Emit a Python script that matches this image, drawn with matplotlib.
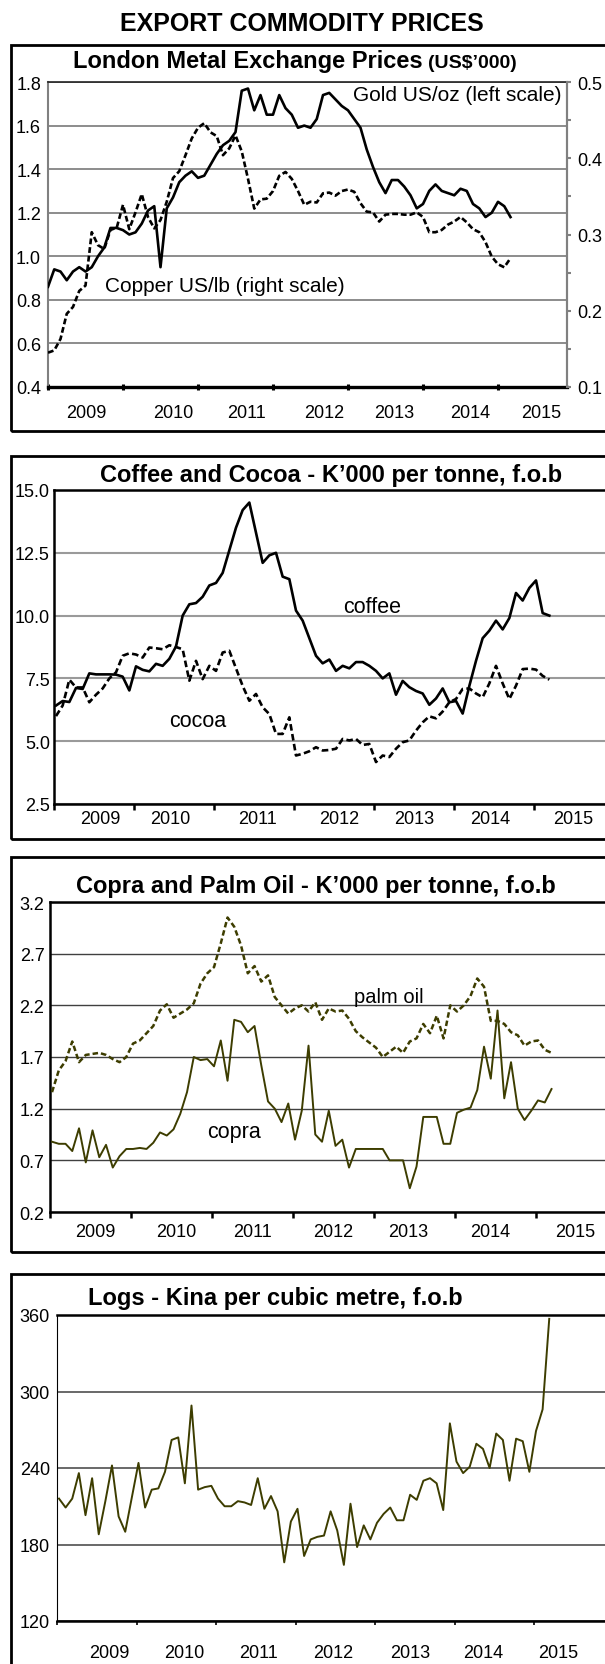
import numpy as np
import matplotlib
matplotlib.use("Agg")
import matplotlib.pyplot as plt
from matplotlib.patches import Rectangle
from matplotlib.transforms import blended_transform_factory

plt.rcParams['font.family'] = ['Liberation Sans', 'DejaVu Sans']

# monthly data, Jan 2009 - Mar 2015
years = [2009, 2010, 2011, 2012, 2013, 2014, 2015]

gold = [0.86, 0.94, 0.93, 0.89, 0.93, 0.95, 0.93, 0.95, 1.00, 1.04, 1.13, 1.13,
        1.12, 1.10, 1.11, 1.15, 1.21, 1.23, 0.95, 1.22, 1.27, 1.34, 1.37, 1.39,
        1.36, 1.37, 1.42, 1.47, 1.51, 1.53, 1.57, 1.76, 1.77, 1.67, 1.74, 1.65,
        1.65, 1.74, 1.68, 1.65, 1.59, 1.60, 1.59, 1.63, 1.74, 1.75, 1.72, 1.69,
        1.67, 1.63, 1.59, 1.49, 1.41, 1.34, 1.29, 1.35, 1.35, 1.32, 1.28, 1.22,
        1.24, 1.30, 1.33, 1.30, 1.29, 1.28, 1.31, 1.30, 1.24, 1.22, 1.18, 1.20,
        1.25, 1.23, 1.18]

copper = [0.145, 0.148, 0.163, 0.196, 0.205, 0.226, 0.233, 0.303, 0.286, 0.281, 0.306, 0.309,
          0.339, 0.307, 0.329, 0.353, 0.323, 0.308, 0.319, 0.343, 0.374, 0.383, 0.404, 0.426,
          0.440, 0.446, 0.434, 0.429, 0.404, 0.413, 0.430, 0.409, 0.373, 0.334, 0.346, 0.347,
          0.357, 0.377, 0.382, 0.373, 0.357, 0.339, 0.343, 0.342, 0.354, 0.355, 0.351, 0.357,
          0.359, 0.356, 0.341, 0.330, 0.329, 0.317, 0.326, 0.327, 0.327, 0.326, 0.326, 0.329,
          0.323, 0.303, 0.303, 0.306, 0.313, 0.317, 0.323, 0.316, 0.307, 0.303, 0.290, 0.271,
          0.261, 0.257, 0.269]

coffee = [6.42, 6.60, 6.56, 7.12, 7.08, 7.70, 7.66, 7.66, 7.66, 7.65, 7.57, 7.02,
          7.98, 7.84, 7.78, 8.08, 8.00, 8.28, 8.77, 10.0, 10.45, 10.5, 10.75, 11.2,
          11.3, 11.7, 12.6, 13.5, 14.2, 14.5, 13.3, 12.1, 12.4, 12.5, 11.55, 11.45,
          10.2, 9.8, 9.1, 8.4, 8.1, 8.25, 7.8, 8.0, 7.9, 8.15, 8.15, 8.0,
          7.8, 7.5, 7.7, 6.85, 7.4, 7.15, 7.0, 6.9, 6.45, 6.7, 7.1, 6.55,
          6.6, 6.1, 7.2, 8.2, 9.1, 9.4, 9.8, 9.45, 9.9, 10.9, 10.6, 11.1,
          11.4, 10.1, 10.0]

cocoa = [6.0, 6.42, 7.45, 7.14, 7.14, 6.55, 6.85, 7.1, 7.5, 7.74, 8.4, 8.5,
         8.45, 8.33, 8.73, 8.7, 8.66, 8.82, 8.75, 8.66, 7.41, 8.2, 7.47, 8.0,
         7.8, 8.53, 8.6, 7.9, 7.2, 6.61, 6.88, 6.35, 6.08, 5.29, 5.29, 5.95,
         4.43, 4.5, 4.6, 4.76, 4.63, 4.65, 4.7, 5.09, 5.03, 5.09, 4.85, 4.89,
         4.17, 4.43, 4.37, 4.7, 4.96, 5.03, 5.42, 5.75, 5.99, 5.91, 6.18, 6.55,
         6.68, 7.08, 7.1, 6.9, 6.75, 7.3, 8.0, 7.3, 6.68, 7.21, 7.87, 7.89,
         7.85, 7.6, 7.45]

copra = [0.88, 0.86, 0.86, 0.79, 1.01, 0.68, 0.99, 0.73, 0.85, 0.63, 0.74, 0.81,
         0.81, 0.82, 0.81, 0.87, 0.97, 0.94, 1.00, 1.15, 1.36, 1.70, 1.67, 1.68,
         1.61, 1.86, 1.47, 2.06, 2.04, 1.94, 2.00, 1.62, 1.27, 1.20, 1.07, 1.25,
         0.90, 1.18, 1.81, 0.95, 0.88, 1.18, 0.84, 0.90, 0.63, 0.81, 0.81, 0.81,
         0.81, 0.81, 0.70, 0.70, 0.70, 0.43, 0.64, 1.12, 1.12, 1.12, 0.86, 0.86,
         1.16, 1.19, 1.21, 1.38, 1.80, 1.49, 2.15, 1.30, 1.65, 1.20, 1.09, 1.18,
         1.28, 1.26, 1.39]

palm_oil = [1.36, 1.57, 1.66, 1.85, 1.65, 1.72, 1.73, 1.74, 1.72, 1.68, 1.65, 1.70,
            1.83, 1.86, 1.93, 2.00, 2.15, 2.21, 2.08, 2.12, 2.16, 2.22, 2.41, 2.51,
            2.57, 2.80, 3.05, 2.96, 2.78, 2.51, 2.58, 2.43, 2.49, 2.28, 2.20, 2.12,
            2.17, 2.20, 2.14, 2.23, 2.06, 2.17, 2.14, 2.15, 2.07, 1.95, 1.89, 1.84,
            1.79, 1.70, 1.75, 1.80, 1.74, 1.85, 1.88, 2.02, 1.93, 2.10, 1.88, 2.20,
            2.14, 2.20, 2.29, 2.46, 2.38, 2.05, 2.05, 2.02, 1.94, 1.91, 1.81, 1.85,
            1.86, 1.77, 1.74]

logs = [216, 209, 216, 236, 203, 232, 188, 214, 242, 202, 190, 217,
        244, 209, 223, 224, 237, 262, 264, 228, 289, 223, 225, 226,
        216, 210, 210, 214, 213, 211, 232, 208, 218, 206, 166, 198,
        208, 171, 184, 186, 187, 206, 191, 164, 212, 178, 195, 184,
        197, 204, 209, 199, 199, 219, 215, 230, 232, 228, 207, 275,
        245, 236, 241, 259, 255, 240, 267, 262, 230, 263, 261, 237,
        269, 286, 357]

W, H = 605, 1665
OLIVE = '#3d3d00'
fig = plt.figure(figsize=(W / 100, H / 100), dpi=100)


def rect(l, t, r, b):
    return [l / W, 1 - b / H, (r - l) / W, (b - t) / H]


def ftext(x, y, s, **kw):
    fig.text(x / W, 1 - y / H, s, **kw)


def box(t, b):
    fig.add_artist(Rectangle((11 / W, 1 - b / H), 640 / W, (b - t) / H,
                             transform=fig.transFigure, fill=False,
                             lw=2, ec='black'))


def year_labels(ax, pos, ypx):
    tr = blended_transform_factory(ax.transData, fig.transFigure)
    for yr, p in zip(years, pos):
        fig.text(p, 1 - ypx / H, str(yr), transform=tr, ha='center',
                 va='center', fontsize=13)


m = np.arange(len(gold))
x1 = 2009 + m / 12
x2 = 2009 + (m + 0.3) / 12

ftext(302, 31, 'EXPORT COMMODITY PRICES', ha='center', va='baseline',
      fontsize=18, fontweight='bold')

# ---- panel 1: LME prices
box(46, 432)
ftext(73, 68, 'London Metal Exchange Prices', ha='left', va='baseline',
      fontsize=17, fontweight='bold')
ftext(428, 68, "(US$\u2019000)", ha='left', va='baseline', fontsize=14,
      fontweight='bold')

ax1 = fig.add_axes(rect(48, 83, 567, 388))
ax1.plot(x1, gold, color='black', lw=1.9, zorder=3)
ax1.set_xlim(2009, 2009 + (567 - 48) / 75)
ax1.set_ylim(0.4, 1.8)
ax1.set_yticks(np.arange(0.4, 1.81, 0.2))
ax1.set_yticklabels(['%.1f' % v for v in np.arange(0.4, 1.81, 0.2)])
ax1.yaxis.grid(True, color='#8c8c8c', lw=1.4)
ax1.set_axisbelow(True)
ax1.set_xticks(years)
ax1.set_xticklabels([])
ax1.tick_params(axis='x', direction='inout', length=5, width=2.2, color='black')
ax1.tick_params(axis='y', length=0, pad=5, labelsize=13)
for s in ['left', 'right']:
    ax1.spines[s].set_color('#808080')
    ax1.spines[s].set_linewidth(1.5)
ax1.spines['bottom'].set_linewidth(2.4)
ax1.spines['top'].set_color('#222222')
ax1.spines['top'].set_linewidth(1.2)

ax1r = ax1.twinx()
ax1r.plot(x1, copper, color='black', lw=1.9, dashes=(2.2, 1.1), zorder=3)
ax1r.set_ylim(0.1, 0.5)
rt = np.arange(0.1, 0.501, 0.05)
ax1r.set_yticks(rt)
ax1r.set_yticklabels(['%.1f' % v if i % 2 == 0 else '' for i, v in enumerate(rt)])
ax1r.tick_params(axis='y', length=3, width=1.5, color='#808080', pad=4.5, labelsize=13)
for s in ['left', 'top', 'bottom']:
    ax1r.spines[s].set_visible(False)
ax1r.spines['right'].set_color('#808080')
ax1r.spines['right'].set_linewidth(1.5)
year_labels(ax1, [2009.51, 2010.67, 2011.65, 2012.68, 2013.61, 2014.63, 2015.57], 413)
ftext(457, 101, 'Gold US/oz (left scale)', ha='center', va='baseline', fontsize=15)
ftext(225, 292, 'Copper US/lb (right scale)', ha='center', va='baseline', fontsize=15)

# ---- panel 2: coffee and cocoa
box(457, 840)
ftext(331, 482, "Coffee and Cocoa - K\u2019000 per tonne, f.o.b", ha='center',
      va='baseline', fontsize=17, fontweight='bold')
ax2 = fig.add_axes(rect(54, 491, 614, 805))
ax2.plot(x2, coffee, color='black', lw=1.9, zorder=3)
ax2.plot(x2, cocoa, color='black', lw=1.9, dashes=(2.5, 1.3), zorder=3)
ax2.set_xlim(2009, 2016)
ax2.set_ylim(2.5, 15.0)
ax2.set_yticks(np.arange(2.5, 15.01, 2.5))
ax2.set_yticklabels(['%.1f' % v for v in np.arange(2.5, 15.01, 2.5)])
ax2.yaxis.grid(True, color='#9a9a9a', lw=1.5)
ax2.set_axisbelow(True)
ax2.set_xticks(years)
ax2.set_xticklabels([])
ax2.tick_params(axis='x', direction='out', length=4, width=1.8)
ax2.tick_params(axis='y', length=0, pad=3, labelsize=13)
for s in ['left', 'bottom', 'top']:
    ax2.spines[s].set_linewidth(1.8)
year_labels(ax2, [2009.575, 2010.45, 2011.54, 2012.56, 2013.5, 2014.45, 2015.49], 820)
ftext(372, 613, 'coffee', ha='center', va='baseline', fontsize=15.5)
ftext(198, 727, 'cocoa', ha='center', va='baseline', fontsize=15.5)

# ---- panel 3: copra and palm oil
box(858, 1253)
ftext(316, 893, "Copra and Palm Oil - K\u2019000 per tonne, f.o.b", ha='center',
      va='baseline', fontsize=17, fontweight='bold')
ax3 = fig.add_axes(rect(50, 903, 617, 1213))
ax3.plot(x2, palm_oil, color=OLIVE, lw=1.8, dashes=(2.2, 1.2), zorder=3)
ax3.plot(x2, copra, color=OLIVE, lw=1.4, zorder=3)
ax3.set_xlim(2009, 2016)
ax3.set_ylim(0.2, 3.2)
ax3.set_yticks(np.arange(0.2, 3.21, 0.5))
ax3.set_yticklabels(['%.1f' % v for v in np.arange(0.2, 3.21, 0.5)])
ax3.yaxis.grid(True, color='#404040', lw=1.0)
ax3.set_axisbelow(True)
ax3.set_xticks(years)
ax3.set_xticklabels([])
ax3.tick_params(axis='x', direction='out', length=4, width=1.8)
ax3.tick_params(axis='y', length=0, pad=4, labelsize=13)
for s in ['left', 'bottom', 'top']:
    ax3.spines[s].set_linewidth(1.8)
year_labels(ax3, [2009.556, 2010.556, 2011.506, 2012.49, 2013.42, 2014.43, 2015.48], 1233)
ftext(389, 1003, 'palm oil', ha='center', va='baseline', fontsize=14.5)
ftext(234, 1138, 'copra', ha='center', va='baseline', fontsize=15.5)

# ---- panel 4: logs
box(1275, 1700)
ftext(275, 1305, 'Logs - Kina per cubic metre, f.o.b', ha='center',
      va='baseline', fontsize=17, fontweight='bold')
ax4 = fig.add_axes(rect(57, 1316, 613.5, 1622))
ax4.plot(x2, logs, color=OLIVE, lw=1.4, zorder=3)
ax4.set_xlim(2009, 2016)
ax4.set_ylim(120, 360)
ax4.set_yticks(np.arange(120, 361, 60))
ax4.yaxis.grid(True, color='#404040', lw=1.1)
ax4.set_axisbelow(True)
ax4.set_xticks(years)
ax4.set_xticklabels([])
ax4.tick_params(axis='x', direction='out', length=3, width=1.2)
ax4.tick_params(axis='y', length=0, pad=5, labelsize=13)
ax4.spines['left'].set_linewidth(0.8)
ax4.spines['bottom'].set_linewidth(1.8)
ax4.spines['top'].set_linewidth(1.8)
year_labels(ax4, [2009.654, 2010.6, 2011.54, 2012.48, 2013.44, 2014.36, 2015.3], 1654)

fig.savefig('out.png', dpi=100)
